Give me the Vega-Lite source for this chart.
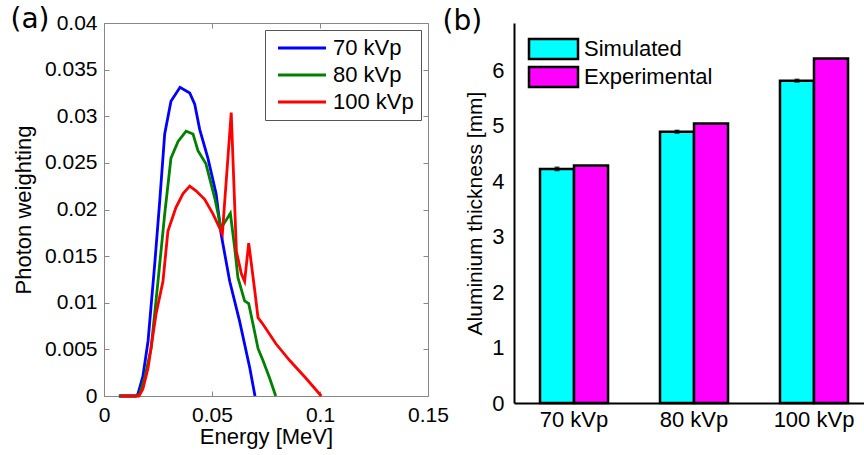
{
  "$schema": "https://vega.github.io/schema/vega-lite/v6.json",
  "background": "white",
  "padding": {"left": 10, "top": 5, "right": 0, "bottom": 10},
  "bounds": "flush",
  "spacing": 86,
  "resolve": {
    "scale": {"color": "independent", "fill": "independent"},
    "legend": {"color": "independent", "fill": "independent"}
  },
  "config": {
    "font": "Liberation Sans",
    "view": {"stroke": null},
    "axis": {
      "labelFont": "Liberation Sans",
      "titleFont": "Liberation Sans",
      "labelColor": "black",
      "titleColor": "black",
      "labelFontSize": 21,
      "titleFontSize": 22,
      "titleFontWeight": "normal",
      "grid": false
    },
    "legend": {"labelFont": "Liberation Sans", "labelFontSize": 22, "labelColor": "black"}
  },
  "datasets": {
    "spectra": [
      {"energy": 0.0069, "weight": 0.0, "tube": "70 kVp"},
      {"energy": 0.0148, "weight": 0.0, "tube": "70 kVp"},
      {"energy": 0.0157, "weight": 0.0002, "tube": "70 kVp"},
      {"energy": 0.018, "weight": 0.0021, "tube": "70 kVp"},
      {"energy": 0.0204, "weight": 0.0059, "tube": "70 kVp"},
      {"energy": 0.0235, "weight": 0.0142, "tube": "70 kVp"},
      {"energy": 0.0258, "weight": 0.0209, "tube": "70 kVp"},
      {"energy": 0.0281, "weight": 0.0281, "tube": "70 kVp"},
      {"energy": 0.031, "weight": 0.0316, "tube": "70 kVp"},
      {"energy": 0.0352, "weight": 0.0331, "tube": "70 kVp"},
      {"energy": 0.0397, "weight": 0.0325, "tube": "70 kVp"},
      {"energy": 0.042, "weight": 0.0313, "tube": "70 kVp"},
      {"energy": 0.0443, "weight": 0.0286, "tube": "70 kVp"},
      {"energy": 0.0481, "weight": 0.0255, "tube": "70 kVp"},
      {"energy": 0.0519, "weight": 0.0217, "tube": "70 kVp"},
      {"energy": 0.0542, "weight": 0.0174, "tube": "70 kVp"},
      {"energy": 0.0582, "weight": 0.0123, "tube": "70 kVp"},
      {"energy": 0.0628, "weight": 0.008, "tube": "70 kVp"},
      {"energy": 0.0675, "weight": 0.003, "tube": "70 kVp"},
      {"energy": 0.0699, "weight": 0.0, "tube": "70 kVp"},

      {"energy": 0.0069, "weight": 0.0, "tube": "80 kVp"},
      {"energy": 0.0148, "weight": 0.0, "tube": "80 kVp"},
      {"energy": 0.0165, "weight": 0.0002, "tube": "80 kVp"},
      {"energy": 0.019, "weight": 0.0021, "tube": "80 kVp"},
      {"energy": 0.0218, "weight": 0.0051, "tube": "80 kVp"},
      {"energy": 0.025, "weight": 0.0123, "tube": "80 kVp"},
      {"energy": 0.0281, "weight": 0.0195, "tube": "80 kVp"},
      {"energy": 0.031, "weight": 0.0255, "tube": "80 kVp"},
      {"energy": 0.0343, "weight": 0.0273, "tube": "80 kVp"},
      {"energy": 0.038, "weight": 0.0284, "tube": "80 kVp"},
      {"energy": 0.0412, "weight": 0.0281, "tube": "80 kVp"},
      {"energy": 0.0435, "weight": 0.0263, "tube": "80 kVp"},
      {"energy": 0.0472, "weight": 0.0249, "tube": "80 kVp"},
      {"energy": 0.0513, "weight": 0.0212, "tube": "80 kVp"},
      {"energy": 0.0542, "weight": 0.018, "tube": "80 kVp"},
      {"energy": 0.0585, "weight": 0.0196, "tube": "80 kVp"},
      {"energy": 0.0605, "weight": 0.0159, "tube": "80 kVp"},
      {"energy": 0.062, "weight": 0.0127, "tube": "80 kVp"},
      {"energy": 0.0651, "weight": 0.0102, "tube": "80 kVp"},
      {"energy": 0.067, "weight": 0.0099, "tube": "80 kVp"},
      {"energy": 0.069, "weight": 0.0077, "tube": "80 kVp"},
      {"energy": 0.0713, "weight": 0.0051, "tube": "80 kVp"},
      {"energy": 0.0736, "weight": 0.0038, "tube": "80 kVp"},
      {"energy": 0.0767, "weight": 0.0019, "tube": "80 kVp"},
      {"energy": 0.0795, "weight": 0.0, "tube": "80 kVp"},

      {"energy": 0.0074, "weight": 0.0, "tube": "100 kVp"},
      {"energy": 0.0162, "weight": 0.0, "tube": "100 kVp"},
      {"energy": 0.018, "weight": 0.00075, "tube": "100 kVp"},
      {"energy": 0.0204, "weight": 0.003, "tube": "100 kVp"},
      {"energy": 0.0241, "weight": 0.0088, "tube": "100 kVp"},
      {"energy": 0.0273, "weight": 0.0123, "tube": "100 kVp"},
      {"energy": 0.0296, "weight": 0.0177, "tube": "100 kVp"},
      {"energy": 0.0333, "weight": 0.0202, "tube": "100 kVp"},
      {"energy": 0.0366, "weight": 0.0217, "tube": "100 kVp"},
      {"energy": 0.0397, "weight": 0.0225, "tube": "100 kVp"},
      {"energy": 0.0426, "weight": 0.022, "tube": "100 kVp"},
      {"energy": 0.0466, "weight": 0.0211, "tube": "100 kVp"},
      {"energy": 0.0505, "weight": 0.0195, "tube": "100 kVp"},
      {"energy": 0.0548, "weight": 0.0174, "tube": "100 kVp"},
      {"energy": 0.0589, "weight": 0.0304, "tube": "100 kVp"},
      {"energy": 0.0613, "weight": 0.0155, "tube": "100 kVp"},
      {"energy": 0.0636, "weight": 0.0131, "tube": "100 kVp"},
      {"energy": 0.0651, "weight": 0.0123, "tube": "100 kVp"},
      {"energy": 0.067, "weight": 0.0164, "tube": "100 kVp"},
      {"energy": 0.0698, "weight": 0.0113, "tube": "100 kVp"},
      {"energy": 0.0713, "weight": 0.0084, "tube": "100 kVp"},
      {"energy": 0.0736, "weight": 0.0077, "tube": "100 kVp"},
      {"energy": 0.0796, "weight": 0.0056, "tube": "100 kVp"},
      {"energy": 0.086, "weight": 0.0038, "tube": "100 kVp"},
      {"energy": 0.0935, "weight": 0.0019, "tube": "100 kVp"},
      {"energy": 0.1006, "weight": 0.0, "tube": "100 kVp"}
    ],
    "thickness": [
      {"tube": "70 kVp", "kind": "Simulated", "mm": 4.22, "lo": 4.19, "hi": 4.25},
      {"tube": "70 kVp", "kind": "Experimental", "mm": 4.28},
      {"tube": "80 kVp", "kind": "Simulated", "mm": 4.89, "lo": 4.865, "hi": 4.915},
      {"tube": "80 kVp", "kind": "Experimental", "mm": 5.04},
      {"tube": "100 kVp", "kind": "Simulated", "mm": 5.81, "lo": 5.785, "hi": 5.835},
      {"tube": "100 kVp", "kind": "Experimental", "mm": 6.21}
    ]
  },
  "hconcat": [
    {
      "width": 324,
      "height": 373,
      "data": {"name": "spectra"},
      "layer": [
        {
          "mark": {"type": "line", "strokeWidth": 2.8, "interpolate": "linear"},
          "encoding": {
            "x": {
              "field": "energy", "type": "quantitative",
              "scale": {"domain": [0, 0.15], "nice": false, "zero": false},
              "axis": {
                "title": "Energy [MeV]", "values": [0, 0.05, 0.1, 0.15], "format": ".3~g",
                "domainColor": "#888", "domainWidth": 1, "tickColor": "#888", "tickSize": -5,
                "labelPadding": 13, "titlePadding": 1, "labelFlush": false
              }
            },
            "y": {
              "field": "weight", "type": "quantitative",
              "scale": {"domain": [0, 0.04], "nice": false},
              "axis": {
                "title": "Photon weighting",
                "values": [0, 0.005, 0.01, 0.015, 0.02, 0.025, 0.03, 0.035, 0.04], "format": ".3~g",
                "domainColor": "#888", "domainWidth": 1, "tickColor": "#888", "tickSize": -5,
                "labelPadding": 12, "titlePadding": 9, "labelFlush": false
              }
            },
            "color": {
              "field": "tube", "type": "nominal",
              "scale": {"domain": ["70 kVp", "80 kVp", "100 kVp"], "range": ["#0000ff", "#008000", "#ff0000"]},
              "legend": {
                "title": null, "orient": "top-right", "offset": 7, "padding": 7,
                "strokeColor": "#555", "fillColor": "white", "rowPadding": 5,
                "symbolType": "M-1,0H8.6", "symbolSize": 100, "symbolStrokeWidth": 3,
                "labelOffset": 39
              }
            }
          }
        },
        {
          "mark": {"type": "point", "opacity": 0},
          "encoding": {
            "x": {
              "field": "energy", "type": "quantitative",
              "axis": {"orient": "top", "labels": false, "values": [0, 0.05, 0.1, 0.15],
                       "domainColor": "#888", "domainWidth": 1, "tickColor": "#888", "tickSize": -5,
                       "title": "(a)", "titleX": -94, "titleY": 4, "titleAlign": "left",
                       "titleBaseline": "alphabetic", "titleAngle": 0,
                       "titleFont": "DejaVu Sans", "titleFontSize": 28}
            },
            "y": {
              "field": "weight", "type": "quantitative",
              "axis": {"orient": "right", "title": null, "labels": false,
                       "values": [0, 0.005, 0.01, 0.015, 0.02, 0.025, 0.03, 0.035, 0.04],
                       "domainColor": "#888", "domainWidth": 1, "tickColor": "#888", "tickSize": -5}
            }
          }
        }
      ],
      "resolve": {"axis": {"x": "independent", "y": "independent"}}
    },
    {
      "width": 353,
      "height": 380,
      "data": {"name": "thickness"},
      "encoding": {
        "x": {
          "field": "tube", "type": "nominal", "sort": ["70 kVp", "80 kVp", "100 kVp"],
          "scale": {"paddingInner": 0.433, "paddingOuter": 0.1875, "align": 0.578},
          "axis": {"labelAngle": 0, "ticks": false, "domainColor": "black", "domainWidth": 2,
                   "labelPadding": 6, "labelFontSize": 22,
                   "title": "(b)", "titleX": -72, "titleY": -374, "titleAlign": "left",
                   "titleBaseline": "alphabetic", "titleAngle": 0,
                   "titleFont": "DejaVu Sans", "titleFontSize": 28}
        },
        "xOffset": {
          "field": "kind", "type": "nominal", "sort": ["Simulated", "Experimental"],
          "scale": {"paddingInner": 0, "paddingOuter": 0}
        }
      },
      "layer": [
        {
          "mark": {"type": "bar", "stroke": "black", "strokeWidth": 2.5},
          "encoding": {
            "y": {
              "field": "mm", "type": "quantitative",
              "scale": {"domain": [0, 6.85], "nice": false},
              "axis": {"title": "Aluminium thickness [mm]", "values": [0, 1, 2, 3, 4, 5, 6], "format": "d",
                       "ticks": false, "domainColor": "black", "domainWidth": 2, "labelPadding": 10,
                       "titlePadding": 6, "titleFontSize": 21, "labelFontSize": 22}
            },
            "fill": {
              "field": "kind", "type": "nominal",
              "scale": {"domain": ["Simulated", "Experimental"], "range": ["#00ffff", "#ff00ff"]},
              "legend": {
                "title": null, "orient": "none", "legendX": 9, "legendY": 15, "padding": 0,
                "rowPadding": -2, "symbolType": "M-1,-2H8.8V2H-1Z", "symbolSize": 100,
                "symbolStrokeColor": "black", "symbolStrokeWidth": 2.5, "symbolOpacity": 1,
                "labelOffset": 39
              }
            }
          }
        },
        {
          "transform": [{"filter": "datum.kind === 'Simulated'"}],
          "mark": {"type": "rule", "color": "black", "strokeWidth": 1.5},
          "encoding": {
            "y": {"field": "lo", "type": "quantitative"},
            "y2": {"field": "hi"}
          }
        },
        {
          "transform": [{"filter": "datum.kind === 'Simulated'"}],
          "mark": {"type": "tick", "color": "black", "thickness": 1.5, "size": 5, "orient": "horizontal"},
          "encoding": {"y": {"field": "hi", "type": "quantitative"}}
        },
        {
          "transform": [{"filter": "datum.kind === 'Simulated'"}],
          "mark": {"type": "tick", "color": "black", "thickness": 1.5, "size": 5, "orient": "horizontal"},
          "encoding": {"y": {"field": "lo", "type": "quantitative"}}
        }
      ]
    }
  ]
}
